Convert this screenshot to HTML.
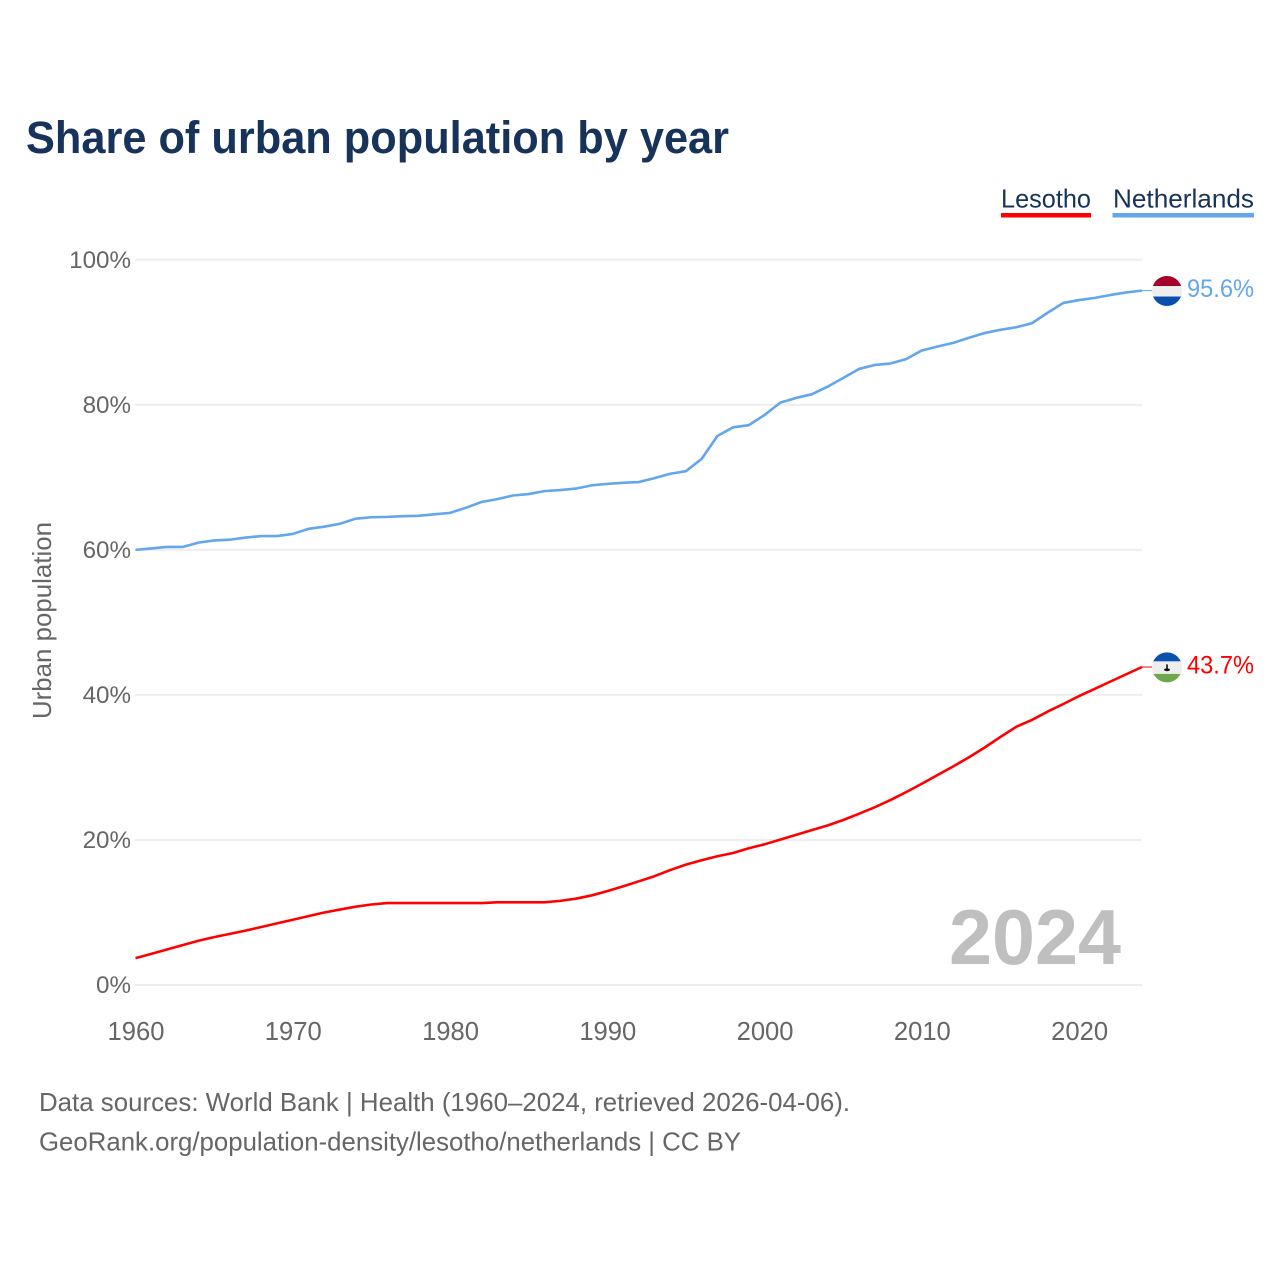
<!DOCTYPE html>
<html lang="en">
<head>
<meta charset="utf-8">
<title>Share of urban population by year</title>
<style>
html,body{margin:0;padding:0;background:#fff;}
svg{display:block;font-family:"Liberation Sans",sans-serif;}
</style>
</head>
<body>
<svg id="chart" xmlns="http://www.w3.org/2000/svg" width="1280" height="1280" viewBox="0 0 1280 1280">
  <rect x="0" y="0" width="1280" height="1280" fill="#ffffff"/>
  <text x="26" y="153" font-size="45" font-weight="700" fill="#17335a" textLength="703" lengthAdjust="spacingAndGlyphs">Share of urban population by year</text>

  <g>
    <text x="1001" y="207.5" font-size="26" fill="#17335a" textLength="90" lengthAdjust="spacingAndGlyphs">Lesotho</text>
    <rect x="1001" y="213" width="90" height="4.5" fill="#ff0000"/>
  </g>
  <g>
    <text x="1113" y="207.5" font-size="26" fill="#17335a" textLength="141" lengthAdjust="spacingAndGlyphs">Netherlands</text>
    <rect x="1112.5" y="213" width="141.5" height="4.5" fill="#62a6ee"/>
  </g>

  <g id="grid"></g>
  <g id="yticks"></g>
  <g id="xticks"></g>
  <text transform="translate(51 620.5) rotate(-90)" text-anchor="middle" font-size="26" fill="#666666" textLength="197" lengthAdjust="spacingAndGlyphs">Urban population</text>

  <text x="1121" y="964" text-anchor="end" font-size="78" font-weight="700" fill="#bfbfbf" textLength="172" lengthAdjust="spacingAndGlyphs">2024</text>

  <g id="series"></g>

  <defs>
    <clipPath id="flag-clip"><circle cx="0" cy="0" r="15"/></clipPath>
  </defs>
  <g id="flag-nl">
    <g clip-path="url(#flag-clip)">
      <rect x="-16" y="-16" width="32" height="11" fill="#a6002a"/>
      <rect x="-16" y="-5" width="32" height="10.5" fill="#eeeeee"/>
      <rect x="-16" y="5.5" width="32" height="11" fill="#0a4fae"/>
    </g>
  </g>
  <g id="flag-ls">
    <g clip-path="url(#flag-clip)">
      <rect x="-16" y="-16" width="32" height="10" fill="#0a52ad"/>
      <rect x="-16" y="-6" width="32" height="12.5" fill="#eeeeee"/>
      <rect x="-16" y="6.5" width="32" height="10" fill="#6fa84a"/>
      <rect x="-0.8" y="-3" width="1.6" height="5" fill="#111111"/>
      <ellipse cx="0" cy="2.4" rx="3" ry="1.4" fill="#111111"/>
    </g>
  </g>
  <text id="label-nl" x="1187" font-size="25" fill="#62a6ee" textLength="67" lengthAdjust="spacingAndGlyphs"></text>
  <text id="label-ls" x="1187" font-size="25" fill="#ff0000" textLength="67" lengthAdjust="spacingAndGlyphs"></text>

  <text x="39" y="1111" font-size="26" fill="#666666" textLength="811" lengthAdjust="spacingAndGlyphs">Data sources: World Bank | Health (1960–2024, retrieved 2026-04-06).</text>
  <text x="39" y="1150.5" font-size="26" fill="#666666" textLength="702" lengthAdjust="spacingAndGlyphs">GeoRank.org/population-density/lesotho/netherlands | CC BY</text>
</svg>
<script>
const firstYear = 1960;
const lastYear = 2024;
const yTickValues = [0, 20, 40, 60, 80, 100];
const xTickValues = [1960, 1970, 1980, 1990, 2000, 2010, 2020];
const netherlandsValues = [
  60.0, 60.2, 60.4, 60.4, 61.0, 61.3, 61.4, 61.7, 61.9, 61.9,
  62.2, 62.9, 63.2, 63.6, 64.3, 64.5, 64.55, 64.65, 64.7, 64.9,
  65.1, 65.8, 66.6, 67.0, 67.5, 67.7, 68.1, 68.25, 68.45, 68.9,
  69.1, 69.25, 69.35, 69.9, 70.5, 70.85, 72.55, 75.7, 76.9, 77.2,
  78.6, 80.3, 80.95, 81.45, 82.5, 83.7, 84.95, 85.5, 85.7, 86.3,
  87.5, 88.05, 88.55, 89.25, 89.9, 90.35, 90.7, 91.25, 92.7, 94.05,
  94.45, 94.75, 95.15, 95.5, 95.75
];
const lesothoValues = [
  3.7, 4.3, 4.9, 5.5, 6.1, 6.6, 7.05, 7.5, 8.0, 8.5,
  9.0, 9.5, 10.0, 10.4, 10.8, 11.1, 11.3, 11.3, 11.3, 11.3,
  11.3, 11.3, 11.3, 11.4, 11.4, 11.4, 11.4, 11.6, 11.9, 12.35,
  12.95, 13.6, 14.3, 15.0, 15.85, 16.6, 17.2, 17.75, 18.2, 18.85,
  19.4, 20.05, 20.7, 21.35, 22.0, 22.75, 23.6, 24.5, 25.5, 26.6,
  27.75, 28.95, 30.15, 31.4, 32.75, 34.2, 35.6, 36.55, 37.7, 38.75,
  39.85, 40.85, 41.85, 42.85, 43.85
];
const endLabels = ['95.6%', '43.7%'];

const SVG_NS = 'http://www.w3.org/2000/svg';
const xScale = (year) => 135.5 + (year - firstYear) * (1142 - 135.5) / (lastYear - firstYear);
const yScale = (value) => 985 - value * (985 - 259.8) / 100;
const tick = (parent, x, y, anchor, content, size) => {
  const t = document.createElementNS(SVG_NS, 'text');
  t.setAttribute('x', x);
  t.setAttribute('y', y);
  t.setAttribute('text-anchor', anchor);
  t.setAttribute('font-size', size);
  t.setAttribute('fill', '#666666');
  t.textContent = content;
  parent.appendChild(t);
  return t;
};

const gridGroup = document.getElementById('grid');
const yTickGroup = document.getElementById('yticks');
yTickValues.forEach((v) => {
  const line = document.createElementNS(SVG_NS, 'line');
  line.setAttribute('x1', 135);
  line.setAttribute('x2', 1142);
  line.setAttribute('y1', yScale(v));
  line.setAttribute('y2', yScale(v));
  line.setAttribute('stroke', '#eeeeee');
  line.setAttribute('stroke-width', '2');
  
  
  gridGroup.appendChild(line);
  const label = tick(yTickGroup, 131, yScale(v) + 8, 'end', v + '%', '24.2');
  
  
});

const xTickGroup = document.getElementById('xticks');
xTickValues.forEach((year) => {
  const label = tick(xTickGroup, xScale(year) + 0.5, 1040, 'middle', String(year), '25.6');
  
  
});

const seriesGroup = document.getElementById('series');
const drawSeries = (values, color, name, flagId, labelId, printed) => {
  const d = values.map((v, i) => (i ? 'L' : 'M') + xScale(firstYear + i).toFixed(2) + ' ' + yScale(v).toFixed(2)).join(' ');
  const path = document.createElementNS(SVG_NS, 'path');
  path.setAttribute('d', d);
  path.setAttribute('fill', 'none');
  path.setAttribute('stroke', color);
  path.setAttribute('stroke-width', '2.6');
  path.setAttribute('stroke-linejoin', 'round');
  
  
  seriesGroup.appendChild(path);

  const last = values[values.length - 1];
  const endY = yScale(last);
  const leader = document.createElementNS(SVG_NS, 'line');
  leader.setAttribute('x1', xScale(lastYear));
  leader.setAttribute('x2', xScale(lastYear) + 11);
  leader.setAttribute('y1', endY);
  leader.setAttribute('y2', endY);
  leader.setAttribute('stroke', color);
  leader.setAttribute('stroke-width', '1');
  
  
  seriesGroup.appendChild(leader);

  document.getElementById(flagId).setAttribute('transform', 'translate(1167 ' + (endY + 0.4) + ')');
  const label = document.getElementById(labelId);
  label.setAttribute('y', endY + 6.6);
  label.textContent = printed;
};
drawSeries(netherlandsValues, '#62a6ee', 'netherlands', 'flag-nl', 'label-nl', endLabels[0]);
drawSeries(lesothoValues, '#ff0000', 'lesotho', 'flag-ls', 'label-ls', endLabels[1]);
</script>
</body>
</html>
